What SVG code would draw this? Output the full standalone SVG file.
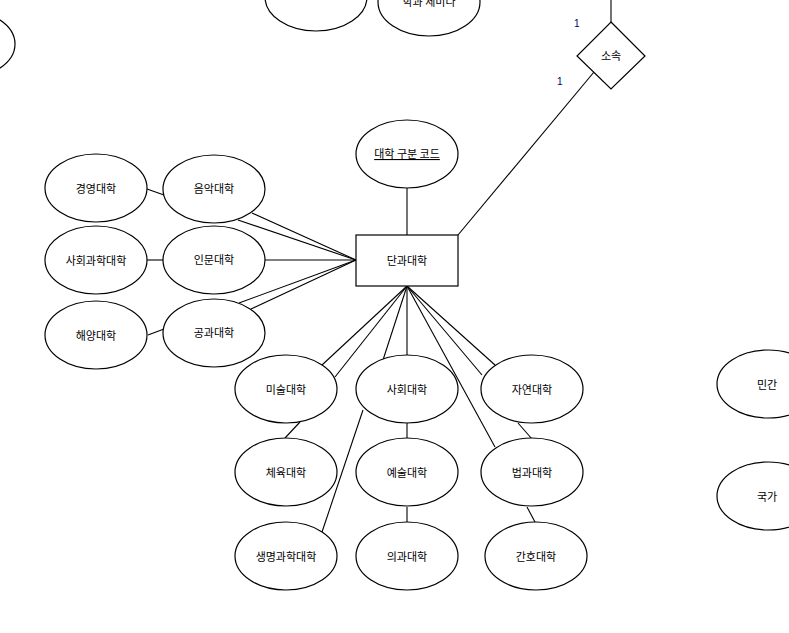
<svg xmlns="http://www.w3.org/2000/svg" width="789" height="633" viewBox="0 0 789 633">
<style>
.n{fill:#fff;stroke:#000;stroke-width:1.2}
.t{font-family:"Noto Sans CJK KR","Noto Sans",sans-serif;font-size:11px;fill:#000;text-anchor:middle;dominant-baseline:central}
.c{stroke:#000;stroke-width:1.1;fill:none}
.lb{font-family:"Liberation Sans",sans-serif;font-size:10px;fill:#000066}
</style>
<rect width="789" height="633" fill="#fff"/>
<g id="connectors">
<line class="c" x1="611" y1="0" x2="611" y2="22"/>
<line class="c" x1="594" y1="72" x2="458" y2="235"/>
<line class="c" x1="407" y1="188" x2="407" y2="235"/>
<line class="c" x1="147" y1="189" x2="164" y2="195"/>
<line class="c" x1="147" y1="260" x2="163" y2="260"/>
<line class="c" x1="148" y1="335" x2="164" y2="329"/>
<line class="c" x1="238" y1="220" x2="356" y2="260"/>
<line class="c" x1="252" y1="213" x2="356" y2="260"/>
<line class="c" x1="265" y1="260" x2="356" y2="260"/>
<line class="c" x1="239" y1="303" x2="356" y2="260"/>
<line class="c" x1="251" y1="309" x2="356" y2="260"/>
<line class="c" x1="407" y1="286" x2="322" y2="365"/>
<line class="c" x1="407" y1="286" x2="335" y2="377"/>
<line class="c" x1="407" y1="286" x2="383" y2="360"/>
<line class="c" x1="407" y1="286" x2="407" y2="355"/>
<line class="c" x1="407" y1="286" x2="482" y2="375"/>
<line class="c" x1="407" y1="286" x2="495" y2="365"/>
<line class="c" x1="407" y1="286" x2="495" y2="447"/>
<line class="c" x1="363" y1="410" x2="322" y2="532"/>
<line class="c" x1="300" y1="422" x2="285" y2="438"/>
<line class="c" x1="407" y1="423" x2="407" y2="438"/>
<line class="c" x1="407" y1="507" x2="407" y2="522"/>
<line class="c" x1="518" y1="423" x2="532" y2="439"/>
<line class="c" x1="527" y1="507" x2="535" y2="522"/>
</g>
<text class="lb" x="574" y="27">1</text>
<text class="lb" x="557" y="85">1</text>
<g id="top-left-partial"><ellipse class="n" cx="-36" cy="44" rx="51" ry="34"/></g>
<g id="top-a"><ellipse class="n" cx="316" cy="-3" rx="51" ry="34"/></g>
<g id="top-b"><ellipse class="n" cx="429" cy="2" rx="51" ry="34"/><text class="t" x="429" y="1">학과 세미나</text></g>
<g id="sosok"><polygon class="n" points="611,22 645,56 611,89 577,56"/><text class="t" x="611" y="55">소속</text></g>
<g id="code"><ellipse class="n" cx="407" cy="154" rx="51" ry="34"/><text class="t" x="407" y="153" text-decoration="underline">대학 구분 코드</text></g>
<g id="dangwa"><rect class="n" x="356" y="235" width="102" height="51"/><text class="t" x="407" y="260">단과대학</text></g>
<g id="gyeongyeong"><ellipse class="n" cx="96" cy="188" rx="51" ry="34"/><text class="t" x="96" y="188">경영대학</text></g>
<g id="eumak"><ellipse class="n" cx="214" cy="189" rx="51" ry="34"/><text class="t" x="214" y="188">음악대학</text></g>
<g id="sahoegwahak"><ellipse class="n" cx="96" cy="260" rx="51" ry="34"/><text class="t" x="96" y="260">사회과학대학</text></g>
<g id="inmun"><ellipse class="n" cx="214" cy="260" rx="51" ry="34"/><text class="t" x="214" y="259">인문대학</text></g>
<g id="haeyang"><ellipse class="n" cx="96" cy="335" rx="51" ry="34"/><text class="t" x="96" y="335">해양대학</text></g>
<g id="gonggwa"><ellipse class="n" cx="214" cy="333" rx="51" ry="34"/><text class="t" x="214" y="332">공과대학</text></g>
<g id="misul"><ellipse class="n" cx="286" cy="389" rx="51" ry="34"/><text class="t" x="286" y="389">미술대학</text></g>
<g id="sahoe"><ellipse class="n" cx="407" cy="389" rx="51" ry="34"/><text class="t" x="407" y="389">사회대학</text></g>
<g id="jayeon"><ellipse class="n" cx="532" cy="389" rx="51" ry="34"/><text class="t" x="532" y="389">자연대학</text></g>
<g id="cheyuk"><ellipse class="n" cx="286" cy="472" rx="51" ry="34"/><text class="t" x="286" y="472">체육대학</text></g>
<g id="yesul"><ellipse class="n" cx="407" cy="472" rx="51" ry="34"/><text class="t" x="407" y="472">예술대학</text></g>
<g id="beopgwa"><ellipse class="n" cx="532" cy="472" rx="51" ry="34"/><text class="t" x="532" y="472">법과대학</text></g>
<g id="saengmyeong"><ellipse class="n" cx="286" cy="556" rx="51" ry="34"/><text class="t" x="286" y="556">생명과학대학</text></g>
<g id="uigwa"><ellipse class="n" cx="407" cy="556" rx="51" ry="34"/><text class="t" x="407" y="556">의과대학</text></g>
<g id="ganho"><ellipse class="n" cx="536" cy="556" rx="51" ry="34"/><text class="t" x="536" y="556">간호대학</text></g>
<g id="mingan"><ellipse class="n" cx="768" cy="384" rx="51" ry="34"/><text class="t" x="767" y="384">민간</text></g>
<g id="gukga"><ellipse class="n" cx="768" cy="496" rx="51" ry="34"/><text class="t" x="767" y="496">국가</text></g>
</svg>
